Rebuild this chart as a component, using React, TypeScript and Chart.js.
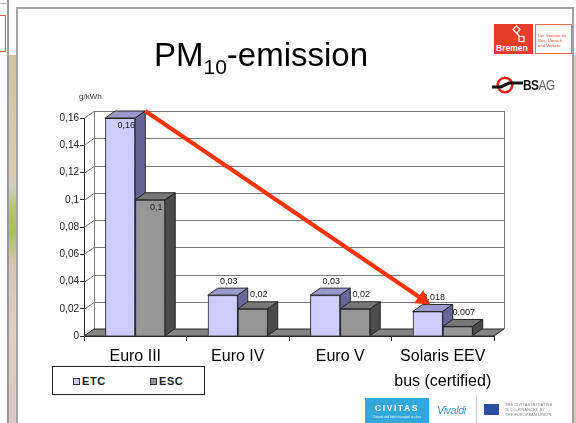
import React, { useEffect, useRef } from 'react';
import { Chart, registerables } from 'chart.js';

Chart.register(...registerables);

// ---------- data ----------
const categories: string[][] = [['Euro III'], ['Euro IV'], ['Euro V'], ['Solaris EEV', 'bus (certified)']];
const seriesNames = ['ETC', 'ESC'];
const etcValues = [0.16, 0.03, 0.03, 0.018];
const escValues = [0.1, 0.02, 0.02, 0.007];
const yTickValues = [0, 0.02, 0.04, 0.06, 0.08, 0.1, 0.12, 0.14, 0.16];
const yUnit = 'g/kWh';

// ---------- style ----------
const FONT = "'Liberation Sans', Arial, Helvetica, sans-serif";
const DX = 10;
const DY = -7;
const OUTLINE = '#262626';
const faceColors = [
  { front: '#ccccff', top: '#9999cc', side: '#666699' },
  { front: '#969696', top: '#777777', side: '#4b4b4b' },
];
const ARROW = '#ff3300';

const fmt = (v: number) => String(parseFloat(Number(v).toFixed(3))).replace('.', ',');

function poly(ctx: CanvasRenderingContext2D, pts: number[][], fill: string) {
  ctx.beginPath();
  ctx.moveTo(pts[0][0], pts[0][1]);
  for (let i = 1; i < pts.length; i++) ctx.lineTo(pts[i][0], pts[i][1]);
  ctx.closePath();
  ctx.fillStyle = fill;
  ctx.fill();
  ctx.stroke();
}

const threeDPlugin = {
  id: 'threeD',
  beforeDatasetsDraw(chart: any) {
    const { ctx, chartArea: a, scales } = chart;
    const ys = scales.y;
    const top = ys.getPixelForValue(yTickValues[yTickValues.length - 1]);
    const bottom = ys.getPixelForValue(0);
    ctx.save();
    ctx.lineWidth = 1;
    ctx.strokeStyle = '#7a7a7a';
    yTickValues.forEach((v) => {
      const py = Math.round(ys.getPixelForValue(v)) + 0.5;
      ctx.beginPath();
      ctx.moveTo(a.left, py);
      ctx.lineTo(a.left + DX, py + DY);
      ctx.lineTo(a.right + DX, py + DY);
      ctx.stroke();
    });
    ctx.beginPath();
    ctx.moveTo(Math.round(a.left + DX) + 0.5, top + DY);
    ctx.lineTo(Math.round(a.left + DX) + 0.5, bottom + DY);
    ctx.moveTo(Math.round(a.right + DX) + 0.5, top + DY);
    ctx.lineTo(Math.round(a.right + DX) + 0.5, bottom + DY);
    ctx.stroke();
    // floor
    ctx.strokeStyle = OUTLINE;
    poly(ctx, [[a.left, bottom], [a.left + DX, bottom + DY], [a.right + DX, bottom + DY], [a.right, bottom]], '#858585');
    ctx.restore();
  },
  afterDatasetsDraw(chart: any) {
    const ctx = chart.ctx;
    const n = chart.data.labels.length;
    ctx.save();
    for (let i = 0; i < n; i++) {
      chart.data.datasets.forEach((_ds: any, di: number) => {
        const bar = chart.getDatasetMeta(di).data[i];
        if (!bar) return;
        bar.draw(ctx);
        const { x, y, base, width } = bar.getProps(['x', 'y', 'base', 'width'], true);
        const l = x - width / 2;
        const r = x + width / 2;
        const fc = faceColors[di % faceColors.length];
        ctx.lineWidth = 1;
        ctx.strokeStyle = OUTLINE;
        ctx.lineJoin = 'round';
        poly(ctx, [[l, y], [l + DX, y + DY], [r + DX, y + DY], [r, y]], fc.top);
        poly(ctx, [[r, y], [r + DX, y + DY], [r + DX, base + DY], [r, base]], fc.side);
      });
    }
    ctx.restore();
  },
  afterDraw(chart: any) {
    const ctx = chart.ctx;
    ctx.save();
    ctx.font = `9px ${FONT}`;
    ctx.fillStyle = '#222';
    ctx.textAlign = 'center';
    ctx.textBaseline = 'middle';
    chart.data.datasets.forEach((ds: any, di: number) => {
      chart.getDatasetMeta(di).data.forEach((bar: any, i: number) => {
        const v = ds.data[i];
        const { x, y } = bar.getProps(['x', 'y'], true);
        const inside = v > 0.05;
        ctx.fillText(fmt(v), x + 6, inside ? y + 8 : y - 14);
      });
    });
    // arrow from top of first ETC bar to top of last ETC bar
    const meta = chart.getDatasetMeta(0);
    const first = meta.data[0].getProps(['x', 'y', 'width'], true);
    const last = meta.data[meta.data.length - 1].getProps(['x', 'y', 'width'], true);
    const sx = first.x + first.width / 2 + DX;
    const sy = first.y + DY;
    const ex = last.x + DX * 0.25;
    const ey = last.y + DY;
    const ang = Math.atan2(ey - sy, ex - sx);
    const headLen = 14;
    const headW = 8;
    const bx = ex - headLen * Math.cos(ang);
    const by = ey - headLen * Math.sin(ang);
    ctx.strokeStyle = ARROW;
    ctx.fillStyle = ARROW;
    ctx.lineWidth = 4;
    ctx.lineCap = 'butt';
    ctx.beginPath();
    ctx.moveTo(sx, sy);
    ctx.lineTo(bx + 2 * Math.cos(ang), by + 2 * Math.sin(ang));
    ctx.stroke();
    ctx.beginPath();
    ctx.moveTo(ex, ey);
    ctx.lineTo(bx + headW * Math.sin(ang), by - headW * Math.cos(ang));
    ctx.lineTo(bx - headW * Math.sin(ang), by + headW * Math.cos(ang));
    ctx.closePath();
    ctx.fill();
    ctx.restore();
  },
};

const abs = (s: React.CSSProperties): React.CSSProperties => ({ position: 'absolute', ...s });

export default function App() {
  const ref = useRef<HTMLCanvasElement>(null);

  useEffect(() => {
    const canvas = ref.current;
    if (!canvas) return;
    const chart = new Chart(canvas, {
      type: 'bar',
      data: {
        labels: categories,
        datasets: [
          {
            label: seriesNames[0],
            data: etcValues,
            backgroundColor: faceColors[0].front,
            borderColor: OUTLINE,
            borderWidth: 1,
            categoryPercentage: 0.585,
            barPercentage: 1,
          },
          {
            label: seriesNames[1],
            data: escValues,
            backgroundColor: faceColors[1].front,
            borderColor: OUTLINE,
            borderWidth: 1,
            categoryPercentage: 0.585,
            barPercentage: 1,
          },
        ],
      },
      options: {
        animation: false,
        responsive: false,
        devicePixelRatio: 1,
        layout: { padding: { left: 0, right: 82, top: 118, bottom: 0 } },
        plugins: { legend: { display: false }, tooltip: { enabled: false }, title: { display: false } },
        scales: {
          x: {
            offset: true,
            grid: { display: true, drawOnChartArea: false, drawTicks: true, tickLength: 5, color: OUTLINE, offset: true },
            border: { display: true, color: OUTLINE, width: 1 },
            ticks: {
              font: { family: FONT, size: 16, lineHeight: 1.55 },
              color: '#000',
              padding: 3,
              maxRotation: 0,
              autoSkip: false,
            },
            afterFit: (s: any) => {
              s.height = 87;
            },
          },
          y: {
            min: 0,
            max: 0.16,
            afterBuildTicks: (s: any) => {
              s.ticks = yTickValues.map((v) => ({ value: v }));
            },
            grid: { drawOnChartArea: false, drawTicks: true, tickLength: 4, color: OUTLINE },
            border: { display: true, color: OUTLINE, width: 1 },
            ticks: {
              callback: (v: any) => fmt(Number(v)),
              font: { family: FONT, size: 10 },
              color: '#222',
              padding: 1,
            },
            afterFit: (s: any) => {
              s.width = 84;
            },
          },
        },
      },
      plugins: [threeDPlugin],
    } as any);
    return () => chart.destroy();
  }, []);

  return (
    <div style={abs({ left: 0, top: 0, width: 576, height: 423, overflow: 'hidden', background: '#fff', fontFamily: FONT })}>
      {/* neighbouring slide fragments */}
      <div style={abs({ left: 0, top: 3, width: 8, height: 1, background: '#b0b0b0' })} />
      <div style={abs({ left: -30, top: 15, width: 36, height: 37, border: '1px solid #e8603c', boxSizing: 'border-box' })} />
      <div style={abs({ left: 7, top: 0, width: 2, height: 423, background: '#9c9c9c' })} />
      <div
        style={abs({
          left: 9,
          top: 55,
          width: 7,
          height: 368,
          background:
            'linear-gradient(to bottom, #d8c0a2 0%, #e0c9ad 30%, #cfd0b8 36%, #b4c46c 42%, #a8c258 48%, #d6c6ae 56%, #e6cdbb 75%, #d9c9c6 100%)',
        })}
      />
      <div style={abs({ left: 574, top: 55, width: 2, height: 368, background: '#d9c6b0' })} />
      {/* slide frame */}
      <div style={abs({ left: 16, top: 7, width: 558, height: 440, border: '2px solid #a3a3a3', boxSizing: 'border-box' })} />

      <canvas ref={ref} width={576} height={423} style={abs({ left: 0, top: 0, width: 576, height: 423 })} />

      {/* title */}
      <div style={abs({ left: 154, top: 38, fontSize: 33, lineHeight: 1, color: '#000', whiteSpace: 'nowrap' })}>
        PM<span style={{ fontSize: 21, verticalAlign: '-8px' }}>10</span>-emission
      </div>

      {/* unit */}
      <div style={abs({ left: 79, top: 92, fontSize: 8, lineHeight: '9px', color: '#333' })}>{yUnit}</div>

      {/* legend */}
      <div style={abs({ left: 52, top: 366, width: 153, height: 29, border: '1px solid #222', boxSizing: 'border-box', background: '#fff' })}>
        {seriesNames.map((name, i) => (
          <div key={name} style={abs({ left: 20 + i * 77, top: 8, height: 12, display: 'flex', alignItems: 'center', whiteSpace: 'nowrap' })}>
            <span
              style={{
                display: 'inline-block',
                width: 7,
                height: 7,
                background: faceColors[i].front,
                border: '1px solid #333',
                boxSizing: 'border-box',
                marginRight: 2,
              }}
            />
            <span style={{ fontSize: 11, fontWeight: 'bold', color: '#222', letterSpacing: 0.6 }}>{name}</span>
          </div>
        ))}
      </div>

      {/* Bremen logo */}
      <div style={abs({ left: 494, top: 24, width: 39, height: 30, background: '#e43d28' })}>
        <svg width="39" height="30" style={abs({ left: 0, top: 0 })}>
          <rect x="20" y="3" width="5" height="5" fill="none" stroke="#fff" strokeWidth="1.2" transform="rotate(45 22.5 5.5)" />
          <line x1="22.5" y1="9" x2="26" y2="13" stroke="#fff" strokeWidth="1.2" />
          <rect x="25" y="12.5" width="5" height="5" fill="none" stroke="#fff" strokeWidth="1.2" />
        </svg>
        <div style={abs({ left: 2, top: 20, fontSize: 8.5, fontWeight: 'bold', color: '#fff', lineHeight: '9px' })}>Bremen</div>
      </div>
      <div style={abs({ left: 535, top: 24, width: 37, height: 30, border: '1px solid #e86a50', boxSizing: 'border-box' })}>
        <div style={abs({ left: 2, top: 8, fontSize: 4.2, lineHeight: '5px', color: '#e4553a', whiteSpace: 'nowrap' })}>
          Der Senator für
          <br />
          Bau, Umwelt
          <br />
          und Verkehr
        </div>
      </div>

      {/* BSAG logo */}
      <svg width="34" height="20" style={abs({ left: 490, top: 75 })}>
        <circle cx="15" cy="10" r="7.3" fill="none" stroke="#e8231a" strokeWidth="2.6" />
        <path d="M2 12 L11 12 L19 8 L33 8" fill="none" stroke="#111" strokeWidth="3.2" />
      </svg>
      <div style={abs({ left: 523, top: 77, fontSize: 14, lineHeight: '16px', letterSpacing: -0.6, transform: 'scaleX(0.85)', transformOrigin: 'left top', whiteSpace: 'nowrap' })}>
        <span style={{ fontWeight: 'bold', color: '#111' }}>BS</span>
        <span style={{ color: '#666' }}>AG</span>
      </div>

      {/* bottom logos */}
      <div style={abs({ left: 365, top: 398, width: 64, height: 25, background: '#33a8da' })}>
        <div style={abs({ left: 0, top: 5, width: 64, textAlign: 'center', fontSize: 8.5, fontWeight: 'bold', letterSpacing: 1.6, color: '#fff', lineHeight: '10px' })}>
          CIVITAS
        </div>
        <div style={abs({ left: 0, top: 17, width: 64, textAlign: 'center', fontSize: 3, color: '#e8f6fc', lineHeight: '4px', whiteSpace: 'nowrap' })}>
          Cleaner and better transport in cities
        </div>
      </div>
      <div style={abs({ left: 437, top: 404, fontSize: 11, fontStyle: 'italic', color: '#3a9cc8', lineHeight: '13px', letterSpacing: -0.5 })}>Vivaldi</div>
      <div style={abs({ left: 476, top: 395, width: 1, height: 28, background: '#d0d0d0' })} />
      <div style={abs({ left: 484, top: 404, width: 15, height: 11, background: '#2a4f9e' })} />
      <div style={abs({ left: 505, top: 403, fontSize: 3.6, lineHeight: '4.8px', color: '#777', whiteSpace: 'nowrap', letterSpacing: 0.3 })}>
        THE CIVITAS INITIATIVE
        <br />
        IS CO-FINANCED BY
        <br />
        THE EUROPEAN UNION
      </div>
    </div>
  );
}
